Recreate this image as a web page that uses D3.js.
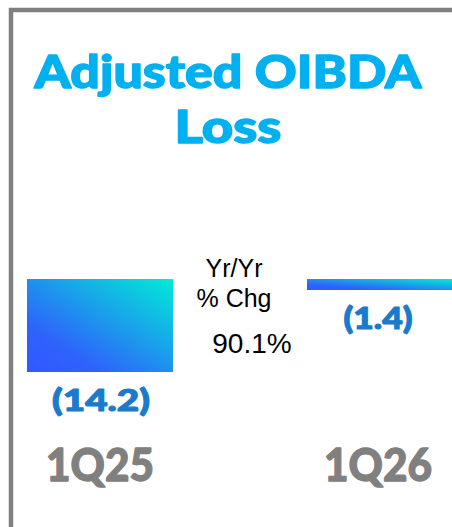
<!DOCTYPE html>
<html><head><meta charset="utf-8">
<script src="https://cdn.jsdelivr.net/npm/d3@7"></script>
<style>html,body{margin:0;padding:0;background:#fff;overflow:hidden}</style>
</head><body>
<script>
const categories = ["1Q25", "1Q26"];
const values = [-14.2, -1.4];
const valueLabels = ["(14.2)", "(1.4)"];
const titleLines = ["Adjusted OIBDA", "Loss"];
const changeLines = ["Yr/Yr", "% Chg"];
const changeValue = "90.1%";

const W = 452, H = 527;
const svg = d3.select("body").append("svg").attr("width", W).attr("height", H);

const defs = svg.append("defs");
const grad = defs.append("linearGradient").attr("id", "g")
  .attr("x1", 0).attr("y1", 1).attr("x2", 1).attr("y2", 0);
grad.append("stop").attr("offset", "0%").attr("stop-color", "#3158ff");
grad.append("stop").attr("offset", "25%").attr("stop-color", "#2f62fb");
grad.append("stop").attr("offset", "100%").attr("stop-color", "#00ecd6");

// frame
svg.append("path").attr("d", `M11,${H} L11,10 L${W},10`)
  .attr("fill", "none").attr("stroke", "#808080").attr("stroke-width", 4.5);

const heavy = (sel, color, sw) => sel.attr("font-family", "Lato, sans-serif").attr("font-weight", 900)
  .attr("fill", color).attr("stroke", color).attr("stroke-width", sw).attr("stroke-linejoin", "round");

// title
const titleLens = [387, 107];
titleLines.forEach((t, i) => {
  heavy(svg.append("text"), "#00b0f0", 1.4)
    .attr("text-anchor", "middle").attr("font-size", 46)
    .attr("x", 228).attr("y", 88 + i * 55)
    .attr("textLength", titleLens[i]).attr("lengthAdjust", "spacingAndGlyphs")
    .text(t);
});

const x = d3.scaleBand().domain(categories).range([27, 453]).paddingInner(134 / 280).paddingOuter(0);
const y = d3.scaleLinear().domain([0, -14.2]).range([279, 372]);

svg.selectAll("rect.bar").data(values).join("rect").attr("class", "bar")
  .attr("x", (d, i) => x(categories[i]))
  .attr("width", x.bandwidth())
  .attr("y", y(0))
  .attr("height", d => Math.max(11, y(d) - y(0)))
  .attr("fill", "url(#g)");

// value labels
const valLens = [98, 69];
heavy(svg.selectAll("text.val").data(values).join("text").attr("class", "val"), "#1a7bca", 1.1)
  .attr("x", (d, i) => x(categories[i]) + x.bandwidth() / 2 + (i === 0 ? 1 : -2))
  .attr("y", d => Math.max(y(0) + 11, y(d)) + 38.5)
  .attr("text-anchor", "middle")
  .attr("font-size", 30)
  .attr("textLength", (d, i) => valLens[i]).attr("lengthAdjust", "spacingAndGlyphs")
  .text((d, i) => valueLabels[i]);

// category labels
heavy(svg.selectAll("text.cat").data(categories).join("text").attr("class", "cat"), "#808080", 1.3)
  .attr("x", (d, i) => x(d) + x.bandwidth() / 2 + (i === 0 ? 0 : -2))
  .attr("y", 481)
  .attr("text-anchor", "middle")
  .attr("font-size", 46)
  .attr("textLength", 108).attr("lengthAdjust", "spacingAndGlyphs")
  .text(d => d);

// yr/yr change
const chg = svg.append("text").attr("text-anchor", "middle")
  .attr("font-family", "Liberation Sans, Arial, sans-serif")
  .attr("font-size", 25).attr("fill", "#000");
changeLines.forEach((t, i) => chg.append("tspan").attr("x", 234).attr("y", 277 + i * 30).text(t));
svg.append("text").attr("x", 252).attr("y", 353).attr("text-anchor", "middle")
  .attr("font-family", "Liberation Sans, Arial, sans-serif")
  .attr("font-size", 28).attr("fill", "#000").text(changeValue);
</script>
</body></html>
